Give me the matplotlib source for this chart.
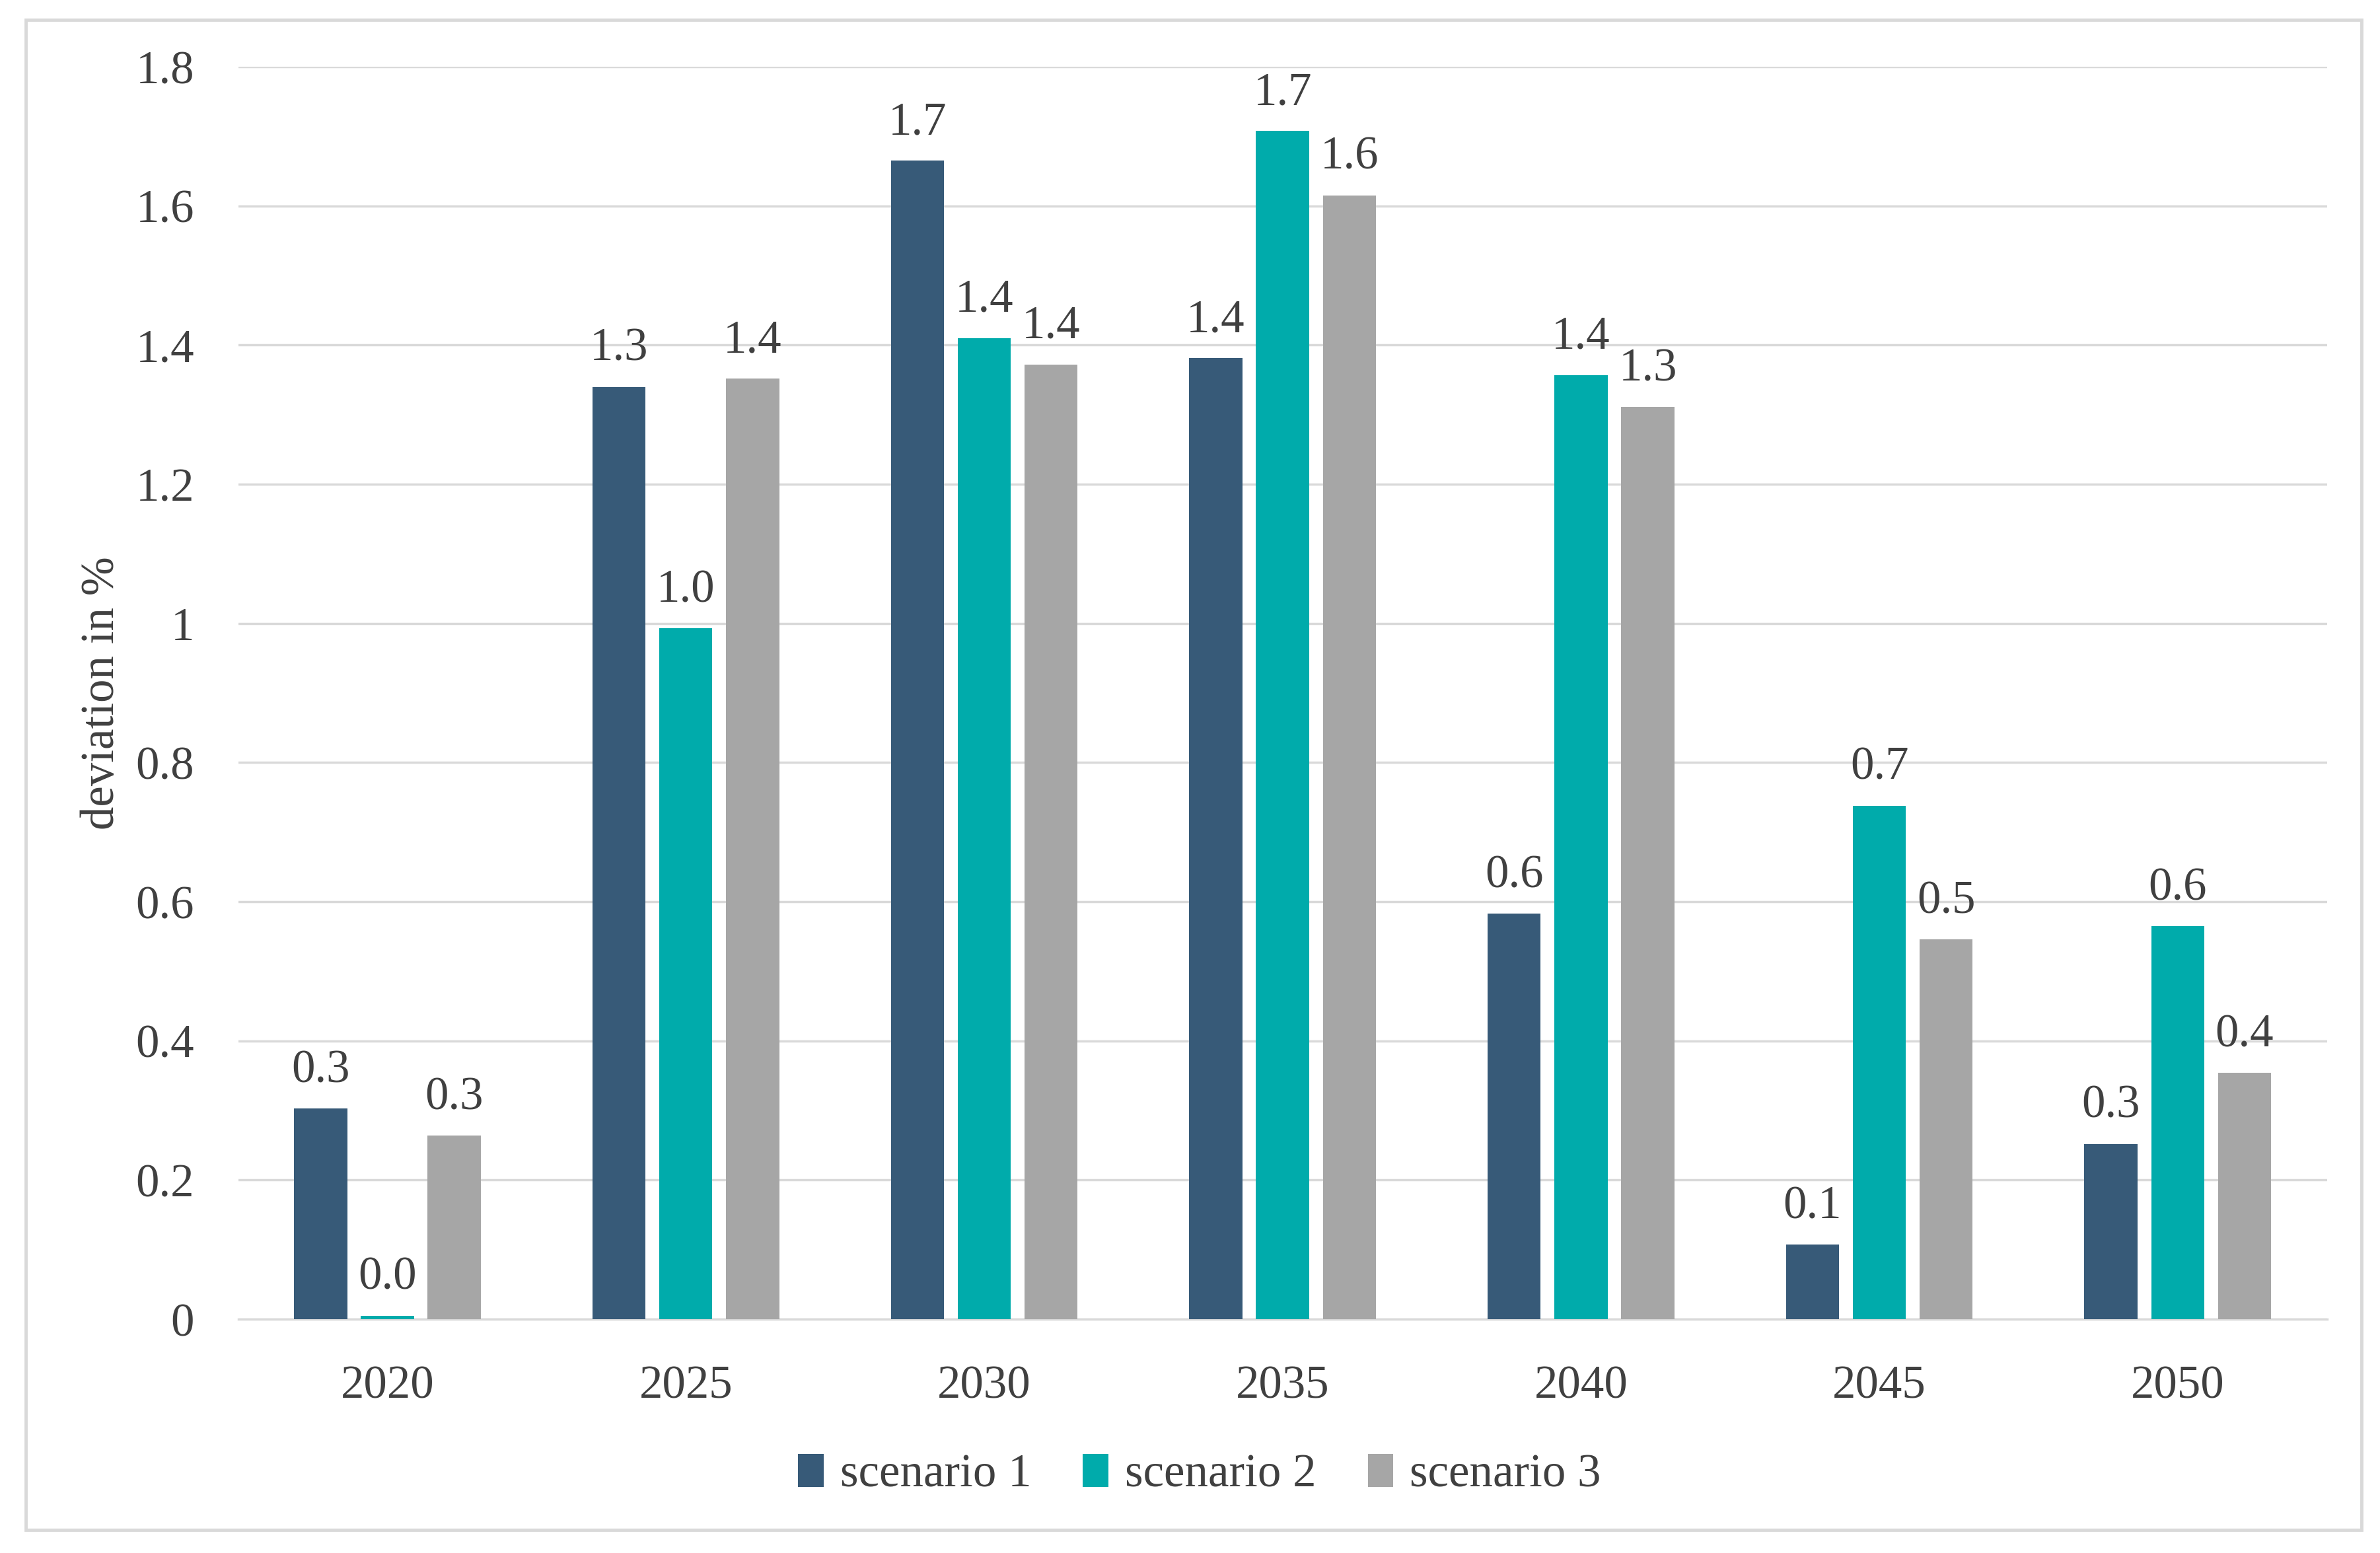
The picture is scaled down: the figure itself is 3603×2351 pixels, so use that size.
import numpy as np
import matplotlib.pyplot as plt
from matplotlib.patches import Rectangle

years = ['2020', '2025', '2030', '2035', '2040', '2045', '2050']
scenario_1 = [0.303, 1.340, 1.665, 1.381, 0.583, 0.107, 0.252]
scenario_2 = [0.005, 0.993, 1.410, 1.708, 1.357, 0.738, 0.565]
scenario_3 = [0.264, 1.352, 1.372, 1.615, 1.311, 0.546, 0.354]
series_names = ['scenario 1', 'scenario 2', 'scenario 3']
colors = ['#375A78', '#00ABAB', '#A6A6A6']

# ------ Set up figure layout --------
plt.rcParams['font.family'] = ['Liberation Serif', 'DejaVu Serif']
text_col = '#404040'
fs = 51

fig = plt.figure(figsize=(36.03, 23.51), dpi=100)
ax = fig.add_axes([0.1001, 0.1505, 0.8776, 0.8065])

# outer frame
fig.patches.append(Rectangle((0.0108, 0.0147), 0.9815, 0.9726, transform=fig.transFigure,
                             fill=False, edgecolor='#D9D9D9', linewidth=3.5))

# ----- Add data -----
x = np.arange(len(years))
width = 0.178
step = 0.224
for i, (vals, name, c) in enumerate(zip([scenario_1, scenario_2, scenario_3], series_names, colors)):
    pos = x + (i - 1) * step
    bars = ax.bar(pos, vals, width, color=c, label=name, zorder=3)
    for b, v in zip(bars, vals):
        ax.annotate('%.1f' % v, (b.get_x() + b.get_width() / 2, v), xytext=(0, 18),
                    textcoords='offset points', ha='center', va='bottom',
                    fontsize=fs, color=text_col)

# ------ Axes --------
ax.set_xlim(-0.5, len(years) - 0.5)
ax.set_ylim(0, 1.8)
ax.set_yticks([0, 0.2, 0.4, 0.6, 0.8, 1.0, 1.2, 1.4, 1.6, 1.8])
ax.set_yticklabels(['0', '0.2', '0.4', '0.6', '0.8', '1', '1.2', '1.4', '1.6', '1.8'])
ax.set_xticks(x)
ax.set_xticklabels(years)
ax.tick_params(axis='both', length=0, labelsize=fs, labelcolor=text_col)
ax.tick_params(axis='y', pad=48)
ax.tick_params(axis='x', pad=50)
ax.grid(axis='y', color='#D9D9D9', linewidth=2.5, zorder=0)
for s in ['top', 'right', 'left']:
    ax.spines[s].set_visible(False)
ax.spines['bottom'].set_color('#D9D9D9')
ax.spines['bottom'].set_linewidth(2.5)

ax.set_ylabel('deviation in %', fontsize=fs, color=text_col)
ax.yaxis.set_label_coords(-0.055, 0.5)

ax.legend(loc='center', bbox_to_anchor=(0.504, 0.050), bbox_transform=fig.transFigure,
          ncol=3, frameon=False, fontsize=fs, labelcolor=text_col,
          handlelength=0.55, handleheight=0.7, handletextpad=0.35, columnspacing=1.1)

plt.savefig('out.png', dpi=100)
